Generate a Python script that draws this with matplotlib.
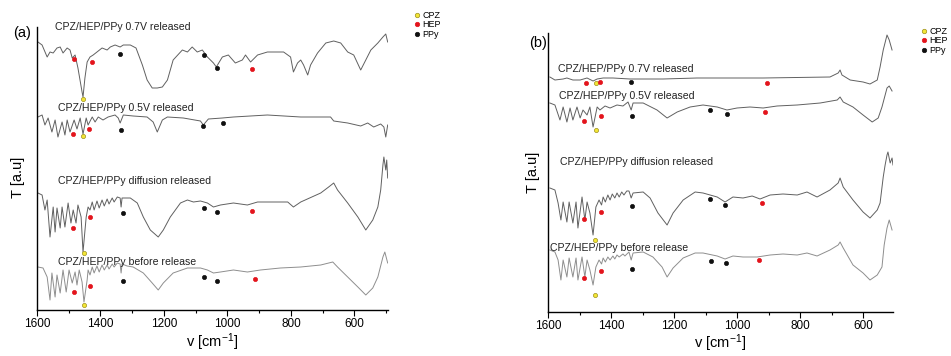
import matplotlib
matplotlib.use('Agg')
import matplotlib.pyplot as plt
from matplotlib.lines import Line2D
from matplotlib.ticker import MultipleLocator

plt.rcParams['font.family'] = ['Liberation Sans', 'DejaVu Sans']
plt.rcParams['mathtext.default'] = 'regular'

# ---------------- panel (a) ----------------
# wavenumbers [cm-1] and transmittance [a.u.], each trace relative to its own baseline
a_07v_wn = [1597, 1584, 1568, 1559, 1549, 1537, 1527, 1518, 1505, 1496, 1489, 1480, 1471, 1458, 1455,
            1449, 1442, 1433, 1423, 1411, 1395, 1379, 1369, 1354, 1338, 1328, 1306, 1288, 1268, 1253,
            1237, 1221, 1205, 1189, 1171, 1142, 1126, 1111, 1095, 1079, 1063, 1044, 1035, 1016, 997,
            975, 953, 943, 927, 905, 874, 823, 801, 792, 779, 769, 760, 747, 738, 716,
            690, 665, 643, 621, 602, 580, 564, 548, 526, 510, 501, 495]
a_07v_t = [0, -3, -15, -10, -11, -6, -5, -11, -6, -8, -16, -13, -26, -50, -55,
           -36, -20, -15, -13, -10, -6, -8, -5, -3, -5, -3, -3, -6, -23, -38,
           -46, -46, -45, -38, -18, -8, -10, -5, -10, -8, -15, -21, -25, -15, -13,
           -21, -18, -13, -20, -13, -10, -10, -15, -30, -21, -18, -23, -33, -23, -11,
           -1, 1, -1, -10, -13, -28, -18, -8, -1, 5, 8, 0]

a_05v_wn = [1597, 1584, 1575, 1565, 1553, 1543, 1534, 1521, 1512, 1505, 1496, 1483, 1474, 1464, 1455,
            1445, 1439, 1426, 1417, 1407, 1392, 1376, 1354, 1344, 1338, 1328, 1297, 1253, 1234, 1221,
            1205, 1189, 1139, 1085, 1076, 1060, 1016, 981, 874, 769, 675, 665, 621, 580, 558,
            539, 517, 507, 501, 495]
a_05v_t = [0, 2, -8, -1, -15, -3, -20, -5, -18, -3, -15, -3, -12, -1, -17,
           -1, -8, 0, -5, 0, -3, 0, 2, -1, -6, 2, 1, 0, -5, -15,
           -3, 0, -1, -4, -8, -2, -1, 0, 2, 0, 0, -4, -6, -9, -6,
           -10, -7, -10, -20, -8]

a_diff_wn = [1597, 1584, 1575, 1568, 1559, 1549, 1543, 1537, 1527, 1521, 1512, 1502, 1493, 1486, 1477,
             1471, 1461, 1455, 1445, 1439, 1433, 1426, 1420, 1411, 1404, 1395, 1388, 1379, 1373, 1363,
             1357, 1347, 1338, 1335, 1332, 1316, 1306, 1284, 1265, 1243, 1218, 1202, 1180, 1148, 1126,
             1107, 1085, 1063, 1044, 1022, 981, 937, 905, 855, 810, 792, 769, 706, 681, 665,
             653, 621, 589, 564, 542, 526, 517, 510, 507, 501, 498, 495]
a_diff_t = [0, -2, -17, -7, -44, -14, -39, -15, -35, -14, -34, -10, -30, -17, -30,
            -12, -24, -59, -24, -14, -17, -9, -17, -8, -15, -7, -13, -6, -11, -5,
            -9, -4, -5, -14, -5, -5, -5, -10, -24, -37, -44, -37, -24, -10, -7,
            -9, -8, -10, -14, -12, -10, -12, -9, -9, -9, -14, -9, 0, 6, 10,
            3, -10, -24, -37, -27, -14, 3, 28, 36, 23, 33, 15]

a_before_wn = [1597, 1581, 1568, 1559, 1553, 1543, 1537, 1527, 1518, 1508, 1499, 1489, 1480, 1474, 1467,
               1458, 1452, 1442, 1439, 1433, 1426, 1420, 1411, 1404, 1395, 1388, 1379, 1373, 1363, 1357,
               1347, 1338, 1335, 1332, 1316, 1297, 1265, 1237, 1218, 1202, 1171, 1126, 1085, 1063, 1044,
               1022, 981, 937, 896, 833, 769, 706, 668, 653, 621, 589, 564, 542, 526, 510,
               504, 495]
a_before_t = [0, -1, -10, -33, -6, -30, -8, -26, -3, -25, -3, -16, -5, -18, -3,
              -15, -35, -13, -3, -8, 0, -6, 1, -5, 2, -3, 2, -2, 3, 0,
              4, 3, -6, 3, 1, 0, -6, -16, -23, -16, -6, -1, -1, -3, -6,
              -5, -3, -5, -3, -1, 0, 2, 5, 0, -10, -20, -28, -21, -10, 10,
              15, 4]

# assigned bands (wavenumber, transmittance, component)
a_07v_mk_wn = [1483, 1426, 1455, 1338, 1073, 1032, 921]
a_07v_mk_t = [-17, -20, -57, -12, -13, -26, -27]
a_07v_mk_kind = ['HEP', 'HEP', 'CPZ', 'PPy', 'PPy', 'PPy', 'HEP']

a_05v_mk_wn = [1486, 1455, 1436, 1335, 1076, 1013]
a_05v_mk_t = [-17, -19, -12, -13, -9, -6]
a_05v_mk_kind = ['HEP', 'CPZ', 'HEP', 'PPy', 'PPy', 'PPy']

a_diff_mk_wn = [1486, 1452, 1433, 1328, 1073, 1032, 921]
a_diff_mk_t = [-35, -60, -24, -20, -15, -19, -18]
a_diff_mk_kind = ['HEP', 'CPZ', 'HEP', 'PPy', 'PPy', 'PPy', 'HEP']

a_before_mk_wn = [1483, 1452, 1433, 1328, 1073, 1032, 912]
a_before_mk_t = [-25, -38, -19, -14, -10, -14, -12]
a_before_mk_kind = ['HEP', 'CPZ', 'HEP', 'PPy', 'PPy', 'PPy', 'HEP']

# ---------------- panel (b) ----------------
b_07v_wn = [1594, 1578, 1552, 1540, 1521, 1498, 1476, 1457, 1444, 1425, 1394, 1340, 1235, 1127, 917,
            705, 679, 673, 667, 641, 600, 578, 555, 546, 536, 524, 517, 508]
b_07v_t = [1, -2, -1, 0, -2, -2, 0, -3, -1, 0, 0, -1, -1, 0, 0,
           1, 5, 8, 3, -2, -4, -6, -2, 11, 28, 43, 38, 28]

b_05v_wn = [1594, 1578, 1562, 1552, 1540, 1530, 1521, 1508, 1498, 1489, 1476, 1467, 1457, 1444, 1435,
            1419, 1403, 1381, 1362, 1346, 1336, 1330, 1298, 1254, 1222, 1190, 1149, 1108, 1063, 1032,
            1000, 959, 917, 873, 809, 736, 682, 673, 663, 632, 600, 571, 552, 540, 524,
            517, 508]
b_05v_t = [0, -2, -17, -4, -19, -5, -17, -4, -15, -7, -12, -4, -24, -4, -7,
           -3, -5, -2, -3, 1, -7, 0, 0, -7, -15, -9, -4, -2, -4, -7,
           -5, -4, -5, -3, -2, 0, 3, 6, 1, -4, -12, -19, -15, -4, 15,
           17, 12]

b_diff_wn = [1594, 1578, 1568, 1559, 1552, 1540, 1533, 1521, 1511, 1505, 1492, 1483, 1476, 1467, 1457,
             1448, 1438, 1430, 1425, 1418, 1410, 1403, 1396, 1388, 1381, 1374, 1366, 1359, 1350, 1343,
             1336, 1330, 1298, 1276, 1251, 1222, 1203, 1171, 1133, 1108, 1063, 1038, 1013, 981, 952,
             927, 895, 854, 809, 778, 746, 705, 679, 673, 663, 632, 600, 578, 555, 546,
             536, 530, 524, 521, 514, 508, 505]
b_diff_t = [2, 0, -13, -30, -12, -32, -12, -33, -12, -38, -7, -30, -12, -23, -45,
            -17, -10, -15, -7, -12, -5, -10, -4, -8, -3, -7, -2, -5, -1, -1,
            -8, -3, -2, -8, -23, -35, -23, -10, -2, -3, -7, -12, -7, -8, -6,
            -9, -5, -4, -5, -2, -7, 0, 7, 12, 3, -10, -22, -28, -20, -13,
            13, 25, 35, 38, 27, 32, 25]

b_before_wn = [1594, 1578, 1568, 1559, 1552, 1540, 1533, 1521, 1511, 1505, 1492, 1483, 1476, 1467, 1457,
               1448, 1438, 1430, 1425, 1418, 1410, 1403, 1394, 1388, 1381, 1374, 1362, 1356, 1343, 1336,
               1330, 1298, 1267, 1238, 1222, 1203, 1171, 1133, 1108, 1063, 1038, 1013, 981, 936, 895,
               854, 809, 778, 746, 705, 679, 673, 663, 632, 600, 578, 555, 540, 533, 524,
               517, 508]
b_before_t = [2, 0, -8, -28, -8, -25, -6, -25, -6, -28, -5, -25, -8, -18, -33,
              -15, -8, -12, -6, -10, -5, -8, -4, -7, -3, -5, -2, -4, 0, -8,
              -1, 0, -5, -15, -25, -16, -6, -1, -1, -4, -7, -4, -5, -5, -3,
              -2, -3, -1, -4, 2, 7, 10, 4, -13, -21, -28, -23, -15, 7, 24,
              32, 22]

b_07v_mk_wn = [1479, 1448, 1435, 1336, 905]
b_07v_mk_t = [-5, -5, -4, -4, -5]
b_07v_mk_kind = ['HEP', 'CPZ', 'HEP', 'PPy', 'HEP']

b_05v_mk_wn = [1486, 1448, 1432, 1333, 1086, 1032, 911]
b_05v_mk_t = [-18, -27, -13, -13, -7, -11, -9]
b_05v_mk_kind = ['HEP', 'CPZ', 'HEP', 'PPy', 'PPy', 'PPy', 'HEP']

b_diff_mk_wn = [1486, 1451, 1432, 1333, 1086, 1038, 921]
b_diff_mk_t = [-29, -50, -22, -16, -9, -15, -13]
b_diff_mk_kind = ['HEP', 'CPZ', 'HEP', 'PPy', 'PPy', 'PPy', 'HEP']

b_before_mk_wn = [1486, 1451, 1432, 1333, 1083, 1035, 930]
b_before_mk_t = [-26, -43, -19, -17, -9, -11, -8]
b_before_mk_kind = ['HEP', 'CPZ', 'HEP', 'PPy', 'PPy', 'PPy', 'HEP']

labels = ['CPZ/HEP/PPy 0.7V released', 'CPZ/HEP/PPy 0.5V released',
          'CPZ/HEP/PPy diffusion released', 'CPZ/HEP/PPy before release']
components = ['CPZ', 'HEP', 'PPy']

# estilos
face = {'CPZ': '#f3e636', 'HEP': '#e3141c', 'PPy': '#101010'}
edge = {'CPZ': '#9c8f1c', 'HEP': '#e3141c', 'PPy': '#101010'}
line_col = ['#606060', '#606060', '#606060', '#8e8e8e']


def draw_panel(ax, traces, marks, offsets, label_pos, xmax_end, ytop):
    for i, (wn, t) in enumerate(traces):
        ax.plot(wn, [v + offsets[i] for v in t], color=line_col[i], lw=0.7)
        mwn, mt, kinds = marks[i]
        for k in components:
            xs = [w for w, kk in zip(mwn, kinds) if kk == k]
            ys = [v + offsets[i] for v, kk in zip(mt, kinds) if kk == k]
            ax.scatter(xs, ys, s=9, c=face[k], edgecolors=edge[k], linewidths=0.5, zorder=3)
        lx, ly = label_pos[i]
        ax.text(lx, ly, labels[i], fontsize=7.6, ha='left', va='center', color='#222222')

    ax.set_xlim(1600, xmax_end)
    ax.set_ylim(0, ytop)
    ax.xaxis.set_major_locator(MultipleLocator(200))
    ax.xaxis.set_minor_locator(MultipleLocator(100))
    ax.tick_params(axis='x', which='major', direction='out', length=4, width=0.8, labelsize=8.5, pad=2)
    ax.tick_params(axis='x', which='minor', direction='out', length=2.5, width=0.8)
    ax.set_yticks([])
    for s in ['top', 'right']:
        ax.spines[s].set_visible(False)
    for s in ['left', 'bottom']:
        ax.spines[s].set_linewidth(1.0)
    ax.set_xlabel('v [cm$^{-1}$]', fontsize=10.5)
    ax.set_ylabel('T [a.u]', fontsize=10.5)


def add_legend(fig, x, y):
    handles = [Line2D([], [], ls='none', marker='o', markersize=3.2,
                      markerfacecolor=face[k], markeredgecolor=edge[k], markeredgewidth=0.5)
               for k in components]
    fig.legend(handles, components, loc='upper left', bbox_to_anchor=(x, y), frameon=False,
               fontsize=6.5, labelspacing=0.05, handlelength=0.6, handletextpad=0.35,
               borderpad=0, borderaxespad=0)


def main():
    fig = plt.figure(figsize=(9.51, 3.56), dpi=100)

    ax_a = fig.add_axes([37 / 951, 1 - 310 / 356, 351 / 951, 283 / 356])
    draw_panel(ax_a,
               [(a_07v_wn, a_07v_t), (a_05v_wn, a_05v_t), (a_diff_wn, a_diff_t), (a_before_wn, a_before_t)],
               [(a_07v_mk_wn, a_07v_mk_t, a_07v_mk_kind), (a_05v_mk_wn, a_05v_mk_t, a_05v_mk_kind),
                (a_diff_mk_wn, a_diff_mk_t, a_diff_mk_kind), (a_before_mk_wn, a_before_mk_t, a_before_mk_kind)],
               [268, 193, 117, 43],
               [(1543, 283), (1534, 202), (1534, 129), (1534, 48)],
               494, 283)
    ax_a.yaxis.set_label_coords(-0.034, 0.47)
    ax_a.xaxis.set_label_coords(0.5, -0.075)

    ax_b = fig.add_axes([548 / 951, 1 - 312 / 356, 345 / 951, 279 / 356])
    draw_panel(ax_b,
               [(b_07v_wn, b_07v_t), (b_05v_wn, b_05v_t), (b_diff_wn, b_diff_t), (b_before_wn, b_before_t)],
               [(b_07v_mk_wn, b_07v_mk_t, b_07v_mk_kind), (b_05v_mk_wn, b_05v_mk_t, b_05v_mk_kind),
                (b_diff_mk_wn, b_diff_mk_t, b_diff_mk_kind), (b_before_mk_wn, b_before_mk_t, b_before_mk_kind)],
               [234, 209, 122, 60],
               [(1568, 243), (1565, 216), (1562, 150), (1594, 64)],
               505, 279)
    ax_b.yaxis.set_label_coords(-0.023, 0.50)
    ax_b.xaxis.set_label_coords(0.5, -0.072)

    fig.text(22 / 951, 1 - 33 / 356, '(a)', fontsize=10.5, ha='center', va='center')
    fig.text(538 / 951, 1 - 43 / 356, '(b)', fontsize=10.5, ha='center', va='center')

    add_legend(fig, 414 / 951, 1 - 11 / 356)
    add_legend(fig, 921 / 951, 1 - 27 / 356)

    fig.savefig('out.png', dpi=100)


if __name__ == "__main__":
    main()
